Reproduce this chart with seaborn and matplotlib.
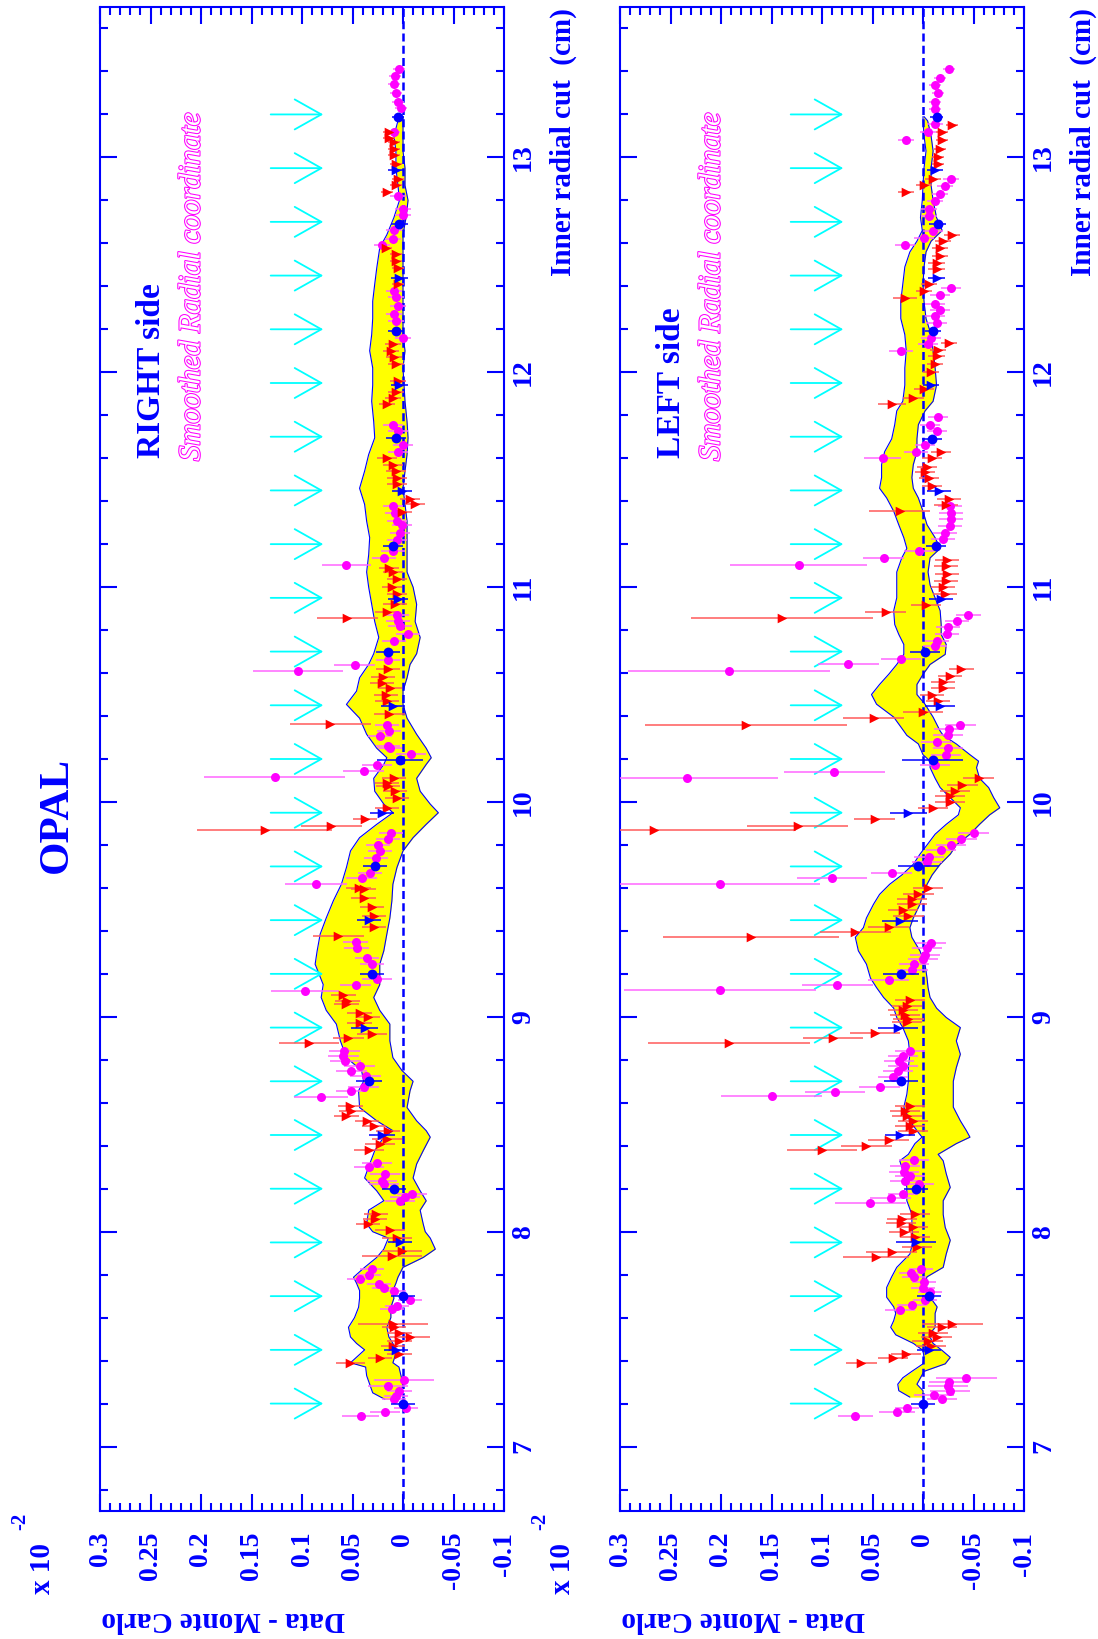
import numpy as np
import pandas as pd
import matplotlib
matplotlib.use("Agg")
import matplotlib.pyplot as plt
import matplotlib.patheffects as PathEffects
from matplotlib.ticker import MultipleLocator
import seaborn as sns

W, H = 1098, 1639

BLUE = "#0000ff"
MAG = "#ff00ff"
MAG_ERR = "#ff66ff"
RED = "#ff0000"
RED_ERR = "#ff5a5a"
CYAN = "#00ffff"
YEL = "#ffff00"

# axis ticks
value_ticks = [0.3, 0.25, 0.2, 0.15, 0.1, 0.05, 0.0, -0.05, -0.1]
value_labels = ["0.3", "0.25", "0.2", "0.15", "0.1", "0.05", "0", "-0.05", "-0.1"]
radial_ticks = [7, 8, 9, 10, 11, 12, 13]
radial_labels = ["7", "8", "9", "10", "11", "12", "13"]

# cyan arrows (radial positions)
arrow_r = [7.2, 7.45, 7.7, 7.95, 8.2, 8.45, 8.7, 8.95, 9.2, 9.45, 9.7, 9.95, 10.2,
           10.45, 10.7, 10.95, 11.2, 11.45, 11.7, 11.95, 12.2, 12.45, 12.7, 12.95, 13.2]

# ---------------- RIGHT side ----------------
right_band_r = [7.22, 7.25, 7.29, 7.33, 7.37, 7.39, 7.42, 7.45, 7.48, 7.51, 7.555, 7.60, 7.648,
                7.69, 7.726, 7.76, 7.788, 7.834, 7.88, 7.919, 7.97, 8.0, 8.036, 8.10, 8.144, 8.19,
                8.25, 8.315, 8.377, 8.44, 8.47, 8.516, 8.578, 8.656, 8.70, 8.75, 8.81, 8.888,
                8.966, 9.03, 9.09, 9.15, 9.245, 9.307, 9.385, 9.46, 9.54, 9.617, 9.695, 9.772,
                9.834, 9.896, 9.95, 9.99, 10.05, 10.11, 10.175, 10.206, 10.25, 10.315, 10.39,
                10.454, 10.516, 10.578, 10.64, 10.69, 10.766, 10.84, 10.92, 11.0, 11.07, 11.15,
                11.23, 11.307, 11.385, 11.46, 11.54, 11.617, 11.695, 11.77, 11.865, 11.94, 12.02,
                12.10, 12.175, 12.25, 12.33, 12.41, 12.485, 12.58, 12.64, 12.72, 12.80, 12.87,
                12.95, 13.03, 13.10, 13.17, 13.19]
right_band_hi = [0.018, 0.030, 0.033, 0.036, 0.037, 0.052, 0.045, 0.038, 0.046, 0.052, 0.054, 0.048,
                 0.044, 0.043, 0.043, 0.046, 0.049, 0.038, 0.026, 0.019, 0.0145, 0.030, 0.036, 0.034,
                 0.019, 0.026, 0.038, 0.033, 0.028, 0.019, 0.010, 0.026, 0.043, 0.044, 0.039, 0.041,
                 0.056, 0.062, 0.066, 0.076, 0.081, 0.079, 0.087, 0.085, 0.082, 0.076, 0.069, 0.061,
                 0.056, 0.052, 0.043, 0.026, 0.010, 0.019, 0.028, 0.029, 0.019, 0.016, 0.026, 0.036,
                 0.043, 0.056, 0.046, 0.043, 0.034, 0.029, 0.024, 0.028, 0.031, 0.034, 0.036, 0.034,
                 0.033, 0.036, 0.038, 0.043, 0.038, 0.034, 0.028, 0.029, 0.031, 0.030, 0.030, 0.033,
                 0.031, 0.030, 0.030, 0.028, 0.026, 0.023, 0.016, 0.009, 0.0035, 0.005, 0.007, 0.007,
                 0.009, 0.005, 0.001]
right_band_lo = [0.006, 0.002, 0.0, 0.002, 0.004, 0.010, 0.008, 0.007, 0.010, 0.014, 0.016, 0.012,
                 0.012, 0.009, 0.010, 0.007, 0.005, 0.0, -0.020, -0.032, -0.027, -0.022, -0.020,
                 -0.017, -0.023, -0.017, -0.010, -0.0135, -0.020, -0.027, -0.023, -0.0135, -0.004,
                 -0.007, -0.010, 0.001, 0.010, 0.013, 0.013, 0.023, 0.029, 0.023, 0.023, 0.019,
                 0.016, 0.013, 0.011, 0.010, 0.006, 0.0, -0.010, -0.023, -0.035, -0.027, -0.017,
                 -0.0135, -0.023, -0.028, -0.023, -0.0135, -0.004, 0.0, 0.0, -0.004, -0.007,
                 -0.0135, -0.017, -0.012, -0.0135, -0.010, -0.004, -0.004, -0.004, -0.004, -0.002,
                 0.0, -0.002, -0.004, -0.005, -0.004, -0.002, -0.001, 0.0, -0.002, 0.0, 0.0, 0.0,
                 0.0, 0.0, 0.0, 0.0, -0.003, -0.005, -0.002, -0.002, 0.0, 0.0, 0.0, 0.0]

right_mag_r = [7.14, 7.163, 7.18, 7.22, 7.237, 7.26, 7.28, 7.31,
               7.64, 7.656, 7.68, 7.726, 7.74, 7.757, 7.78, 7.80, 7.826,
               8.144, 8.16, 8.175, 8.22, 8.237, 8.268, 8.30, 8.32,
               8.628, 8.656, 8.674, 8.726, 8.75, 8.77, 8.795, 8.82, 8.84,
               9.12, 9.15, 9.175, 9.245, 9.276, 9.32, 9.35,
               9.62, 9.645, 9.67, 9.74, 9.77, 9.80, 9.826, 9.857,
               10.116, 10.144, 10.17, 10.225, 10.25, 10.26, 10.307, 10.33, 10.36,
               10.61, 10.637, 10.66, 10.75, 10.78, 10.82, 10.84, 10.87,
               11.105, 11.136, 11.167, 11.22, 11.25, 11.29, 11.31, 11.345, 11.377,
               11.63, 11.66, 11.725, 11.756,
               12.16, 12.24, 12.27, 12.31, 12.35, 12.38,
               12.59, 12.62, 12.66, 12.73, 12.76, 12.82,
               13.12, 13.23, 13.26, 13.30, 13.34, 13.38, 13.41]
right_mag_v = [0.042, 0.018, -0.003, 0.009, 0.007, 0.0035, 0.015, -0.001,
               0.011, 0.006, -0.007, 0.009, 0.019, 0.024, 0.043, 0.034, 0.031,
               0.003, -0.002, -0.009, 0.019, 0.021, 0.018, 0.034, 0.026,
               0.081, 0.051, 0.039, 0.037, 0.051, 0.043, 0.057, 0.059, 0.058,
               0.097, 0.047, 0.026, 0.031, 0.036, 0.046, 0.047,
               0.086, 0.041, 0.033, 0.027, 0.023, 0.025, 0.0145, 0.012,
               0.127, 0.039, 0.026, -0.008, 0.013, 0.0145, 0.023, 0.0135, 0.016,
               0.104, 0.048, 0.015, 0.0086, -0.005, 0.003, 0.0046, 0.006,
               0.056, 0.019, 0.0096, 0.006, 0.003, 0.001, 0.006, 0.008, 0.0096,
               0.0046, 0.0, 0.005, 0.0096,
               0.0, 0.007, 0.009, 0.005, 0.007, 0.009,
               0.021, 0.010, 0.009, 0.0, 0.0, 0.005,
               0.009, 0.002, 0.005, 0.007, 0.009, 0.008, 0.004]
right_mag_err = [0.018, 0.015, 0.012, 0.012, 0.012, 0.012, 0.02, 0.03,
                 0.012, 0.012, 0.012, 0.012, 0.012, 0.012, 0.012, 0.012, 0.012,
                 0.015, 0.015, 0.015, 0.015, 0.015, 0.015, 0.015, 0.015,
                 0.027, 0.015, 0.015, 0.015, 0.015, 0.015, 0.015, 0.015, 0.015,
                 0.034, 0.015, 0.015, 0.012, 0.012, 0.012, 0.012,
                 0.031, 0.015, 0.012, 0.012, 0.012, 0.012, 0.012, 0.012,
                 0.07, 0.02, 0.015, 0.015, 0.012, 0.012, 0.012, 0.012, 0.012,
                 0.045, 0.02, 0.012, 0.012, 0.012, 0.012, 0.012, 0.012,
                 0.024, 0.012, 0.012, 0.01, 0.01, 0.01, 0.01, 0.01, 0.01,
                 0.01, 0.01, 0.01, 0.01,
                 0.008, 0.008, 0.008, 0.008, 0.008, 0.008,
                 0.008, 0.008, 0.008, 0.008, 0.008, 0.008,
                 0.006, 0.006, 0.006, 0.006, 0.006, 0.006, 0.006]

right_red_r = [7.39, 7.41, 7.43, 7.47, 7.49, 7.51, 7.53, 7.555, 7.57,
               7.885, 7.91, 7.97, 8.01, 8.036, 8.06, 8.08,
               8.38, 8.41, 8.43, 8.47, 8.49, 8.516, 8.54, 8.56, 8.586,
               8.876, 8.90, 8.92, 8.97, 9.0, 9.02, 9.06, 9.075, 9.10,
               9.374, 9.42, 9.47, 9.51, 9.555, 9.594, 9.60,
               9.868, 9.89, 9.92, 9.97, 10.02, 10.05, 10.074, 10.09, 10.11,
               10.364, 10.41, 10.47, 10.50, 10.53, 10.555, 10.58, 10.617,
               10.857, 10.885, 10.92, 10.97, 11.0, 11.04, 11.07, 11.09,
               11.35, 11.385, 11.41, 11.48, 11.51, 11.54, 11.57, 11.60,
               11.85, 11.88, 11.91, 11.96, 12.04, 12.07, 12.10, 12.13,
               12.41, 12.485, 12.52, 12.55, 12.58,
               12.84, 12.87, 12.90, 12.97, 13.01, 13.04, 13.07, 13.09, 13.12]
right_red_v = [0.052, 0.023, 0.0035, 0.010, 0.0035, -0.007, 0.0035, 0.009, 0.010,
               0.011, 0.001, 0.006, 0.013, 0.035, 0.028, 0.027,
               0.034, 0.023, 0.016, 0.0145, 0.029, 0.036, 0.056, 0.051, 0.052,
               0.093, 0.054, 0.031, 0.043, 0.035, 0.043, 0.056, 0.055, 0.059,
               0.064, 0.029, 0.029, 0.031, 0.039, 0.039, 0.044,
               0.137, 0.071, 0.038, 0.016, 0.006, 0.008, 0.0145, 0.016, 0.009,
               0.072, 0.0135, 0.016, 0.017, 0.013, 0.021, 0.020, 0.0145,
               0.055, 0.0155, 0.008, 0.006, 0.011, 0.006, 0.0096, 0.0135,
               0.001, -0.012, -0.007, 0.006, 0.006, 0.007, 0.0096, 0.016,
               0.0156, 0.010, 0.007, 0.005, 0.007, 0.009, 0.012, 0.010,
               0.005, 0.005, 0.007, 0.007, 0.017,
               0.016, 0.007, 0.005, 0.007, 0.009, 0.009, 0.009, 0.014, 0.014]
right_red_err = [0.014, 0.012, 0.012, 0.012, 0.012, 0.02, 0.012, 0.012, 0.035,
                 0.03, 0.02, 0.015, 0.015, 0.012, 0.012, 0.012,
                 0.015, 0.015, 0.015, 0.012, 0.012, 0.012, 0.012, 0.012, 0.012,
                 0.03, 0.015, 0.015, 0.012, 0.012, 0.012, 0.012, 0.012, 0.012,
                 0.025, 0.012, 0.012, 0.012, 0.012, 0.012, 0.012,
                 0.067, 0.03, 0.012, 0.012, 0.012, 0.012, 0.012, 0.012, 0.012,
                 0.04, 0.015, 0.012, 0.012, 0.012, 0.012, 0.012, 0.012,
                 0.03, 0.012, 0.012, 0.01, 0.01, 0.01, 0.01, 0.01,
                 0.01, 0.01, 0.01, 0.01, 0.01, 0.01, 0.01, 0.01,
                 0.008, 0.008, 0.008, 0.008, 0.008, 0.008, 0.008, 0.008,
                 0.006, 0.006, 0.006, 0.006, 0.006,
                 0.006, 0.006, 0.006, 0.006, 0.006, 0.006, 0.006, 0.006, 0.006]

right_bcirc_r = [7.198, 7.70, 8.198, 8.70, 9.198, 9.70, 10.195, 10.70, 11.19, 11.695, 12.19, 12.69, 13.19]
right_bcirc_v = [0.0, 0.0, 0.0086, 0.034, 0.031, 0.028, 0.003, 0.0145, 0.0096, 0.007, 0.007, 0.0035, 0.005]
right_bcirc_err = [0.012, 0.012, 0.012, 0.013, 0.012, 0.012, 0.023, 0.012, 0.01, 0.01, 0.008, 0.008, 0.006]
right_btri_r = [7.45, 7.95, 8.45, 8.947, 9.45, 9.947, 10.447, 10.945, 11.447, 11.94, 12.44, 12.94]
right_btri_v = [0.007, 0.003, 0.021, 0.038, 0.034, 0.021, 0.0096, 0.0046, 0.001, 0.0035, 0.0035, 0.007]
right_btri_err = [0.012, 0.012, 0.013, 0.013, 0.012, 0.012, 0.012, 0.01, 0.01, 0.008, 0.008, 0.008]

# ---------------- LEFT side ----------------
left_band_r = [7.23, 7.26, 7.29, 7.32, 7.35, 7.385, 7.415, 7.447, 7.48, 7.52, 7.555, 7.586, 7.62,
               7.65, 7.695, 7.74, 7.79, 7.834, 7.896, 7.96, 8.02, 8.08, 8.144, 8.206, 8.27, 8.33,
               8.36, 8.41, 8.44, 8.47, 8.516, 8.58, 8.64, 8.70, 8.764, 8.826, 8.888, 8.95, 8.997,
               9.04, 9.09, 9.136, 9.18, 9.245, 9.307, 9.37, 9.415, 9.46, 9.524, 9.57, 9.617, 9.66,
               9.71, 9.757, 9.80, 9.85, 9.896, 9.94, 9.973, 10.02, 10.067, 10.11, 10.16, 10.19,
               10.22, 10.27, 10.31, 10.33, 10.395, 10.455, 10.50, 10.547, 10.594, 10.64, 10.687,
               10.733, 10.78, 10.826, 10.89, 10.95, 11.01, 11.07, 11.136, 11.18, 11.23, 11.29,
               11.353, 11.415, 11.46, 11.51, 11.57, 11.63, 11.69, 11.756, 11.82, 11.865, 11.94,
               12.02, 12.10, 12.175, 12.25, 12.33, 12.41, 12.49, 12.56, 12.61, 12.66, 12.72,
               12.80, 12.87, 12.95, 13.03, 13.10, 13.17, 13.19]
left_band_hi = [0.013, 0.024, 0.025, 0.020, 0.011, 0.0, -0.001, 0.0, 0.0095, 0.027, 0.032, 0.029,
                0.027, 0.029, 0.036, 0.036, 0.031, 0.026, 0.013, 0.0096, 0.011, 0.011, 0.016, 0.016,
                0.019, 0.023, 0.0145, 0.008, 0.001, 0.006, 0.013, 0.019, 0.016, 0.0145, 0.0145,
                0.013, 0.0145, 0.020, 0.026, 0.029, 0.039, 0.046, 0.052, 0.056, 0.064, 0.067, 0.059,
                0.056, 0.049, 0.043, 0.033, 0.021, 0.0096, 0.003, -0.004, -0.012, -0.023, -0.035,
                -0.037, -0.027, -0.017, -0.012, -0.007, -0.007, 0.0, 0.0046, 0.016, 0.019, 0.029,
                0.046, 0.051, 0.043, 0.034, 0.026, 0.019, 0.019, 0.024, 0.028, 0.029, 0.026, 0.026,
                0.026, 0.021, 0.016, 0.019, 0.024, 0.029, 0.036, 0.043, 0.041, 0.041, 0.038, 0.031,
                0.028, 0.026, 0.020, 0.018, 0.018, 0.0166, 0.018, 0.022, 0.022, 0.020, 0.018, 0.013,
                0.006, 0.0007, 0.0025, 0.0007, 0.0, -0.001, -0.003, -0.001, 0.0, 0.0]
left_band_lo = [0.0, 0.0, 0.006, 0.0025, -0.001, -0.022, -0.027, -0.019, -0.010, -0.006, -0.012,
                -0.012, -0.012, -0.014, -0.007, 0.0, -0.004, -0.020, -0.023, -0.027, -0.022, -0.020,
                -0.020, -0.027, -0.023, -0.020, -0.015, -0.033, -0.0465, -0.043, -0.037, -0.030,
                -0.030, -0.030, -0.033, -0.037, -0.033, -0.037, -0.023, -0.0135, -0.007, -0.005,
                -0.004, -0.002, 0.003, 0.011, 0.013, 0.0096, 0.003, 0.0, -0.004, -0.009, -0.017,
                -0.027, -0.033, -0.0465, -0.056, -0.066, -0.076, -0.070, -0.065, -0.056, -0.053,
                -0.055, -0.0465, -0.033, -0.020, -0.017, -0.010, -0.002, 0.006, 0.006, 0.0, -0.007,
                -0.022, -0.023, -0.018, -0.018, -0.017, -0.012, -0.007, -0.005, -0.007, -0.017,
                -0.012, -0.004, 0.0, 0.0046, 0.0096, 0.011, 0.0096, 0.006, 0.006, 0.0046, -0.002,
                -0.010, -0.0134, -0.012, -0.010, -0.008, -0.003, -0.001, 0.0, -0.001, -0.003,
                -0.008, -0.019, -0.0134, -0.010, -0.008, -0.008, -0.010, -0.008, -0.0046, -0.001]

left_mag_r = [7.14, 7.163, 7.18, 7.22, 7.24, 7.26, 7.28, 7.30, 7.32,
              7.636, 7.66, 7.68, 7.72, 7.74, 7.765, 7.79, 7.806, 7.826,
              8.133, 8.157, 8.175, 8.22, 8.237, 8.26, 8.28, 8.307, 8.333,
              8.63, 8.65, 8.674, 8.72, 8.75, 8.77, 8.795, 8.82, 8.84,
              9.124, 9.15, 9.17, 9.22, 9.245, 9.27, 9.29, 9.32, 9.345,
              9.62, 9.645, 9.67, 9.72, 9.744, 9.775, 9.80, 9.826, 9.857,
              10.113, 10.14, 10.17, 10.22, 10.25, 10.28, 10.31, 10.338, 10.36,
              10.61, 10.64, 10.667, 10.725, 10.75, 10.78, 10.814, 10.84, 10.87,
              11.105, 11.136, 11.167, 11.225, 11.253, 11.284, 11.315, 11.346, 11.377,
              11.60, 11.63, 11.66, 11.725, 11.756, 11.79,
              12.10, 12.13, 12.16, 12.23, 12.26, 12.29, 12.32, 12.36, 12.39,
              12.59, 12.625, 12.656, 12.725, 12.76, 12.795, 12.83, 12.865, 12.90,
              13.08, 13.12, 13.155, 13.227, 13.26, 13.30, 13.335, 13.37, 13.41]
left_mag_v = [0.067, 0.026, 0.0155, -0.019, -0.011, -0.027, -0.025, -0.026, -0.043,
              0.023, 0.011, -0.002, -0.007, 0.0, -0.001, 0.009, 0.012, 0.002,
              0.052, 0.032, 0.0195, 0.004, 0.018, 0.013, 0.019, 0.018, 0.0086,
              0.150, 0.087, 0.043, 0.030, 0.025, 0.0195, 0.024, 0.0195, 0.013,
              0.201, 0.085, 0.034, 0.0105, 0.009, 0.0003, -0.002, -0.004, -0.0076,
              0.201, 0.090, 0.031, -0.004, -0.006, -0.018, -0.028, -0.038, -0.050,
              0.234, 0.088, -0.012, -0.023, -0.025, -0.0135, -0.025, -0.026, -0.037,
              0.192, 0.074, 0.022, -0.012, -0.014, -0.024, -0.025, -0.034, -0.045,
              0.123, 0.039, 0.004, -0.020, -0.022, -0.027, -0.028, -0.028, -0.027,
              0.040, 0.007, -0.002, -0.0135, -0.007, -0.015,
              0.022, -0.0046, -0.008, -0.0134, -0.012, -0.017, -0.012, -0.017, -0.0275,
              0.018, -0.001, -0.010, -0.006, -0.006, -0.012, -0.017, -0.022, -0.0275,
              0.0166, -0.0046, -0.012, -0.012, -0.012, -0.015, -0.012, -0.017, -0.026]
left_mag_err = [0.017, 0.018, 0.012, 0.015, 0.02, 0.02, 0.02, 0.02, 0.03,
                0.015, 0.015, 0.012, 0.012, 0.012, 0.012, 0.012, 0.012, 0.012,
                0.035, 0.02, 0.015, 0.015, 0.015, 0.015, 0.015, 0.015, 0.015,
                0.05, 0.03, 0.02, 0.015, 0.015, 0.015, 0.015, 0.015, 0.015,
                0.095, 0.035, 0.02, 0.015, 0.015, 0.015, 0.015, 0.015, 0.015,
                0.099, 0.035, 0.02, 0.015, 0.015, 0.015, 0.015, 0.015, 0.015,
                0.09, 0.05, 0.015, 0.015, 0.015, 0.015, 0.015, 0.015, 0.015,
                0.10, 0.03, 0.02, 0.012, 0.012, 0.012, 0.012, 0.012, 0.012,
                0.068, 0.02, 0.015, 0.012, 0.012, 0.012, 0.012, 0.012, 0.012,
                0.018, 0.012, 0.01, 0.01, 0.01, 0.01,
                0.012, 0.01, 0.01, 0.01, 0.01, 0.01, 0.01, 0.01, 0.01,
                0.01, 0.01, 0.01, 0.008, 0.008, 0.008, 0.008, 0.008, 0.008,
                0.008, 0.008, 0.008, 0.006, 0.006, 0.006, 0.006, 0.006, 0.006]

left_red_r = [7.39, 7.41, 7.43, 7.47, 7.49, 7.51, 7.53, 7.555, 7.57,
              7.884, 7.907, 7.927, 7.974, 7.997, 8.02, 8.04, 8.06, 8.08,
              8.38, 8.40, 8.426, 8.47, 8.49, 8.516, 8.54, 8.56, 8.586,
              8.876, 8.90, 8.924, 8.975, 8.99, 9.01, 9.03, 9.05, 9.08,
              9.37, 9.397, 9.42, 9.47, 9.496, 9.524, 9.547, 9.574, 9.60,
              9.868, 9.89, 9.92, 9.97, 10.0, 10.03, 10.05, 10.08, 10.11,
              10.36, 10.39, 10.42, 10.47, 10.50, 10.53, 10.56, 10.586, 10.617,
              10.857, 10.885, 10.916, 10.97, 11.0, 11.03, 11.06, 11.096, 11.125,
              11.353, 11.384, 11.41, 11.47, 11.51, 11.536, 11.56, 11.60, 11.63,
              11.85, 11.88, 11.92, 12.0, 12.04, 12.075, 12.105, 12.136,
              12.345, 12.377, 12.41, 12.48, 12.51, 12.54, 12.58, 12.61, 12.64,
              12.84, 12.87, 12.90, 12.97, 13.0, 13.04, 13.08, 13.12, 13.15]
left_red_v = [0.061, 0.030, 0.0166, -0.008, -0.0046, -0.0134, -0.010, -0.019, -0.029,
              0.0465, 0.031, 0.006, 0.008, 0.019, 0.0096, 0.022, 0.021, 0.008,
              0.100, 0.056, 0.034, 0.0096, 0.013, 0.0096, 0.016, 0.018, 0.013,
              0.192, 0.089, 0.0475, 0.016, 0.0145, 0.018, 0.0195, 0.016, 0.013,
              0.170, 0.067, 0.034, 0.0145, 0.0195, 0.011, 0.011, 0.0046, -0.005,
              0.266, 0.124, 0.048, -0.0096, -0.027, -0.027, -0.032, -0.039, -0.055,
              0.175, 0.049, 0.0, -0.015, -0.009, -0.020, -0.020, -0.027, -0.038,
              0.140, 0.037, -0.003, -0.022, -0.020, -0.023, -0.024, -0.023, -0.024,
              0.023, -0.023, -0.026, -0.0086, -0.006, -0.002, -0.004, -0.0086, -0.018,
              0.031, 0.0095, -0.001, -0.008, -0.012, -0.0134, -0.015, -0.026,
              0.018, -0.001, -0.006, -0.0134, -0.0134, -0.017, -0.017, -0.020, -0.029,
              0.0166, -0.001, -0.010, -0.015, -0.015, -0.017, -0.019, -0.019, -0.029]
left_red_err = [0.015, 0.015, 0.015, 0.015, 0.015, 0.015, 0.015, 0.015, 0.03,
                0.033, 0.025, 0.015, 0.015, 0.015, 0.015, 0.015, 0.015, 0.015,
                0.035, 0.025, 0.02, 0.015, 0.015, 0.015, 0.015, 0.015, 0.015,
                0.08, 0.03, 0.025, 0.015, 0.015, 0.015, 0.015, 0.015, 0.015,
                0.087, 0.035, 0.02, 0.015, 0.015, 0.015, 0.015, 0.015, 0.015,
                0.14, 0.05, 0.02, 0.015, 0.015, 0.015, 0.015, 0.015, 0.015,
                0.10, 0.03, 0.02, 0.012, 0.012, 0.012, 0.012, 0.012, 0.012,
                0.09, 0.02, 0.015, 0.012, 0.012, 0.012, 0.012, 0.012, 0.012,
                0.03, 0.012, 0.012, 0.01, 0.01, 0.01, 0.01, 0.01, 0.01,
                0.014, 0.01, 0.01, 0.008, 0.008, 0.008, 0.008, 0.008,
                0.012, 0.008, 0.008, 0.008, 0.008, 0.008, 0.008, 0.008, 0.008,
                0.008, 0.008, 0.008, 0.006, 0.006, 0.006, 0.006, 0.006, 0.006]

left_bcirc_r = [7.198, 7.70, 8.20, 8.70, 9.198, 9.70, 10.195, 10.70, 11.19, 11.69, 12.19, 12.69, 13.19]
left_bcirc_v = [0.0, -0.006, 0.007, 0.022, 0.022, 0.0046, -0.0096, -0.002, -0.0125, -0.009, -0.010, -0.0144, -0.0134]
left_bcirc_err = [0.012, 0.012, 0.012, 0.017, 0.018, 0.02, 0.03, 0.015, 0.01, 0.01, 0.008, 0.008, 0.006]
left_btri_r = [7.45, 7.95, 8.45, 8.95, 9.446, 9.947, 10.447, 10.946, 11.446, 11.94, 12.44, 12.94]
left_btri_v = [-0.006, 0.007, 0.023, 0.025, 0.023, 0.0145, -0.017, -0.018, -0.016, -0.008, -0.0134, -0.012]
left_btri_err = [0.012, 0.02, 0.015, 0.02, 0.018, 0.018, 0.015, 0.012, 0.012, 0.008, 0.008, 0.008]


def fx(px):
    return px / W


def fy(py):
    return 1 - py / H


def draw_panel(ax, band_r, band_hi, band_lo, mag, red, bcirc, btri):
    ax.fill_betweenx(band_r, band_lo, band_hi, color=YEL, lw=0, zorder=1)
    ax.plot(band_hi, band_r, color=BLUE, lw=0.8, zorder=2)
    ax.plot(band_lo, band_r, color=BLUE, lw=0.8, zorder=2)
    ax.axvline(0, color=BLUE, lw=1.8, ls=(0, (3.2, 1.7)), zorder=3)

    for r in arrow_r:
        ax.annotate("", xy=(0.079, r), xytext=(0.131, r),
                    arrowprops=dict(arrowstyle="->,head_length=1.6,head_width=0.9",
                                    color=CYAN, lw=1.3, shrinkA=0, shrinkB=0),
                    zorder=3)

    # error bars first, markers on top
    for (r, v, e), ec, z in [(mag, MAG_ERR, 4), (red, RED_ERR, 4),
                             (bcirc, BLUE, 6), (btri, BLUE, 6)]:
        ax.errorbar(v, r, xerr=e, fmt="none", ecolor=ec, elinewidth=1.1, capsize=0, zorder=z)

    sns.scatterplot(x=mag[1], y=mag[0], ax=ax, color=MAG, marker="o", s=42,
                    linewidth=0, zorder=5, legend=False)
    sns.scatterplot(x=red[1], y=red[0], ax=ax, color=RED, marker=">", s=48,
                    linewidth=0, zorder=5, legend=False)
    sns.scatterplot(x=bcirc[1], y=bcirc[0], ax=ax, color=BLUE, marker="o", s=50,
                    linewidth=0, zorder=7, legend=False)
    sns.scatterplot(x=btri[1], y=btri[0], ax=ax, color=BLUE, marker=">", s=48,
                    linewidth=0, zorder=7, legend=False)

    ax.set_xlim(0.3, -0.1)
    ax.set_ylim(6.7, 13.7)
    ax.set_xlabel("")
    ax.set_ylabel("")
    ax.set_xticks(value_ticks)
    ax.set_xticklabels(value_labels, rotation=90, ha="center", va="top")
    ax.xaxis.set_minor_locator(MultipleLocator(0.01))
    ax.set_yticks(radial_ticks)
    ax.set_yticklabels(radial_labels, rotation=90, ha="left", va="center")
    ax.yaxis.set_minor_locator(MultipleLocator(0.2))
    ax.tick_params(which="both", direction="in", top=True, bottom=True, left=True,
                   right=True, color=BLUE, width=1.5, labelcolor=BLUE, labelsize=20)
    ax.tick_params(which="major", length=12)
    ax.tick_params(which="minor", length=6)
    ax.tick_params(axis="y", labelleft=False, labelright=True, pad=5)
    ax.tick_params(axis="x", pad=15)
    for lab in ax.get_xticklabels() + ax.get_yticklabels():
        lab.set_fontweight("bold")
    for sp in ax.spines.values():
        sp.set_color(BLUE)
        sp.set_linewidth(1.5)
        sp.set_visible(True)


sns.set_theme(style="white")
plt.rcParams["font.family"] = ["Liberation Serif", "DejaVu Serif"]
plt.rcParams["axes.facecolor"] = "white"

fig = plt.figure(figsize=(W / 100, H / 100), dpi=100)
ax_r = fig.add_axes([fx(100), fy(1511), 404 / W, 1504 / H])
ax_l = fig.add_axes([fx(620), fy(1511), 404 / W, 1504 / H])

draw_panel(ax_r, right_band_r, right_band_hi, right_band_lo,
           (right_mag_r, right_mag_v, right_mag_err),
           (right_red_r, right_red_v, right_red_err),
           (right_bcirc_r, right_bcirc_v, right_bcirc_err),
           (right_btri_r, right_btri_v, right_btri_err))
draw_panel(ax_l, left_band_r, left_band_hi, left_band_lo,
           (left_mag_r, left_mag_v, left_mag_err),
           (left_red_r, left_red_v, left_red_err),
           (left_bcirc_r, left_bcirc_v, left_bcirc_err),
           (left_btri_r, left_btri_v, left_btri_err))

txt = dict(color=BLUE, fontweight="bold")
fig.text(fx(57), fy(815), "OPAL", rotation=90, ha="center", va="center", fontsize=31, **txt)

for x0, side in [(100, "RIGHT side"), (620, "LEFT side")]:
    fig.text(fx(x0 + 51), fy(458), side, rotation=90, ha="center", va="bottom", fontsize=24, **txt)
    fig.text(fx(x0 + 92), fy(461), "Smoothed Radial coordinate", rotation=90, ha="center",
             va="bottom", fontsize=22, style="italic", color="white",
             path_effects=[PathEffects.withStroke(linewidth=1.5, foreground=MAG)])
    fig.text(fx(x0 + 463), fy(8), "Inner radial cut  (cm)", rotation=90, ha="center",
             va="top", fontsize=21, **txt)
    fig.text(fx(x0 + 1), fy(1619), "Data - Monte Carlo", rotation=180, ha="left",
             va="center", fontsize=21, **txt)
    fig.text(fx(x0 - 57), fy(1569), "x 10", rotation=90, ha="center", va="center", fontsize=21, **txt)
    fig.text(fx(x0 - 80), fy(1521), "-2", rotation=90, ha="center", va="center", fontsize=15, **txt)

fig.savefig("out.png", dpi=100, facecolor="white")
